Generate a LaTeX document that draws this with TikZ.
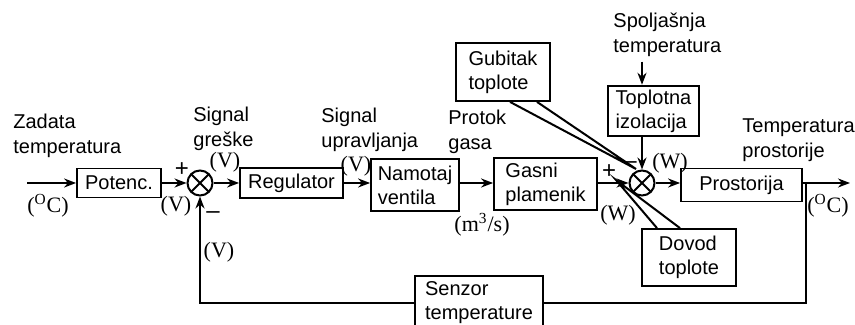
\documentclass[tikz,border=0pt]{standalone}
\usepackage{fontspec}
\setmainfont{Liberation Sans}
\newfontfamily\jedfont{Liberation Serif}
\usetikzlibrary{arrows.meta, positioning, calc}

\begin{document}
\begin{tikzpicture}[x=0.5pt, y=-0.5pt, font=\fontsize{10}{12}\selectfont]
      \tikzset{
        blok/.style={rectangle, draw=black, line width=0.9pt, inner sep=2pt, align=left},
        sumator/.style={circle, draw=black, line width=1pt, minimum size=12.5pt, inner sep=0pt,
                        path picture={\draw[line width=1pt]
                          (path picture bounding box.north west) -- (path picture bounding box.south east)
                          (path picture bounding box.north east) -- (path picture bounding box.south west);}},
        pfeil/.style={-{Stealth[length=6pt, width=4.5pt]}, line width=1pt},
        linija/.style={line width=1pt},
        natpis/.style={align=left, inner sep=0pt, font=\fontsize{10}{12.5}\selectfont},
        jedinica/.style={inner sep=0pt, font=\jedfont\fontsize{11}{12}\selectfont},
        znak/.style={inner sep=0pt, font=\fontsize{12}{12}\selectfont}
      }
      \useasboundingbox (0,0) rectangle (855,325);
      \clip (0,0) rectangle (855,325);

      % glavna grana
      \node[blok, minimum width=42pt, minimum height=14.5pt] (potenc) at (119,183) {Potenc.};
      \node[sumator] (sum1) at (200,183) {};
      \node[blok, minimum width=51.5pt, minimum height=15pt] (regulator) at (291.5,183) {Regulator};
      \node[blok, minimum width=44pt, minimum height=26pt] (ventil) at (415,185) {Namotaj\\ventila};
      \node[blok, minimum width=51.5pt, minimum height=26pt] (plamenik) at (545.5,184) {Gasni\\plamenik};
      \node[sumator] (sum2) at (642,183) {};
      \node[blok, minimum width=60.5pt, minimum height=16.5pt] (prostorija) at (741.5,185) {Prostorija};

      % poremecaji i povratna sprega
      \node[blok, minimum width=45.5pt, minimum height=25pt] (izolacija) at (653.5,111) {Toplotna\\izolacija};
      \node[blok, minimum width=47pt, minimum height=29pt] (gubitak) at (503,72) {Gubitak\\toplote};
      \node[blok, minimum width=47pt, minimum height=28.5pt] (dovod) at (689,257.5) {Dovod\\toplote};
      \node[blok, minimum width=64pt, minimum height=27pt] (senzor) at (479,303) {Senzor\\temperature};

      % natpisi
      \node[natpis, anchor=north west] (zadata) at (13,114) {Zadata\\temperatura};
      \node[natpis, anchor=north west] (greska) at (193,107) {Signal\\greške};
      \node[natpis, anchor=north west] (upravljanje) at (321,108) {Signal\\upravljanja};
      \node[natpis, anchor=north west] (protok) at (448,110) {Protok\\gasa};
      \node[natpis, anchor=north west] (spolja) at (613,13) {Spoljašnja\\temperatura};
      \node[natpis, anchor=north west] (tprost) at (742,118) {Temperatura\\prostorije};

      % jedinice i znaci
      \node[jedinica] (j1) at (48,206) {(\textsuperscript{O}C)};
      \node[jedinica] (j2) at (176,206) {(V)};
      \node[jedinica] (j3) at (225,162) {(V)};
      \node[jedinica] (j4) at (219,252) {(V)};
      \node[jedinica] (j5) at (356,166) {(V)};
      \node[jedinica] (j6) at (482,225) {(m\textsuperscript{3}/s)};
      \node[jedinica] (j7) at (618,215) {(W)};
      \node[jedinica] (j8) at (670,163) {(W)};
      \node[jedinica] (j9) at (828,206) {(\textsuperscript{O}C)};
      \node[znak] (plus1) at (182,170) {+};
      \node[znak] (minus1) at (213,215) {--};
      \node[znak] (plus2) at (609,172) {+};
      \node[znak] (minus2) at (630,165) {--};

      \coordinate (ulaz) at (27,183);
      \coordinate (izlaz) at (850,183);
      \coordinate (grana) at (806,183);
      \coordinate (gvrh) at (636,169);
      \coordinate (dvrh) at (616,180);

      \draw[pfeil] (ulaz) -- (potenc);
      \draw[pfeil] (potenc) -- (sum1);
      \draw[pfeil] (sum1) -- (regulator);
      \draw[pfeil] (regulator.east) -- (regulator.east -| ventil.west);
      \draw[pfeil] (ventil.east |- sum1) -- (plamenik.west |- sum1);
      \draw[pfeil] (plamenik.east |- sum2) -- (sum2);
      \draw[pfeil] (sum2) -- (prostorija.west |- sum2);
      \draw[pfeil] (prostorija.east |- sum2) -- (izlaz);
      \draw[linija] (grana) |- (senzor);
      \draw[pfeil] (senzor) -| (sum1);
      \draw[pfeil] (izolacija.south -| sum2) -- (sum2);
      \draw[pfeil, shorten <=2pt] (spolja.south -| sum2) -- (izolacija.north -| sum2);

      \draw[linija] ($(gubitak.south)+(7,0)$) -- (gvrh) -- ($(gubitak.south)+(34,0)$);
      \draw[linija] ($(dovod.north)+(-32,0)$) -- (dvrh) -- ($(dovod.north)+(-9,0)$);

    \end{tikzpicture}
\end{document}
